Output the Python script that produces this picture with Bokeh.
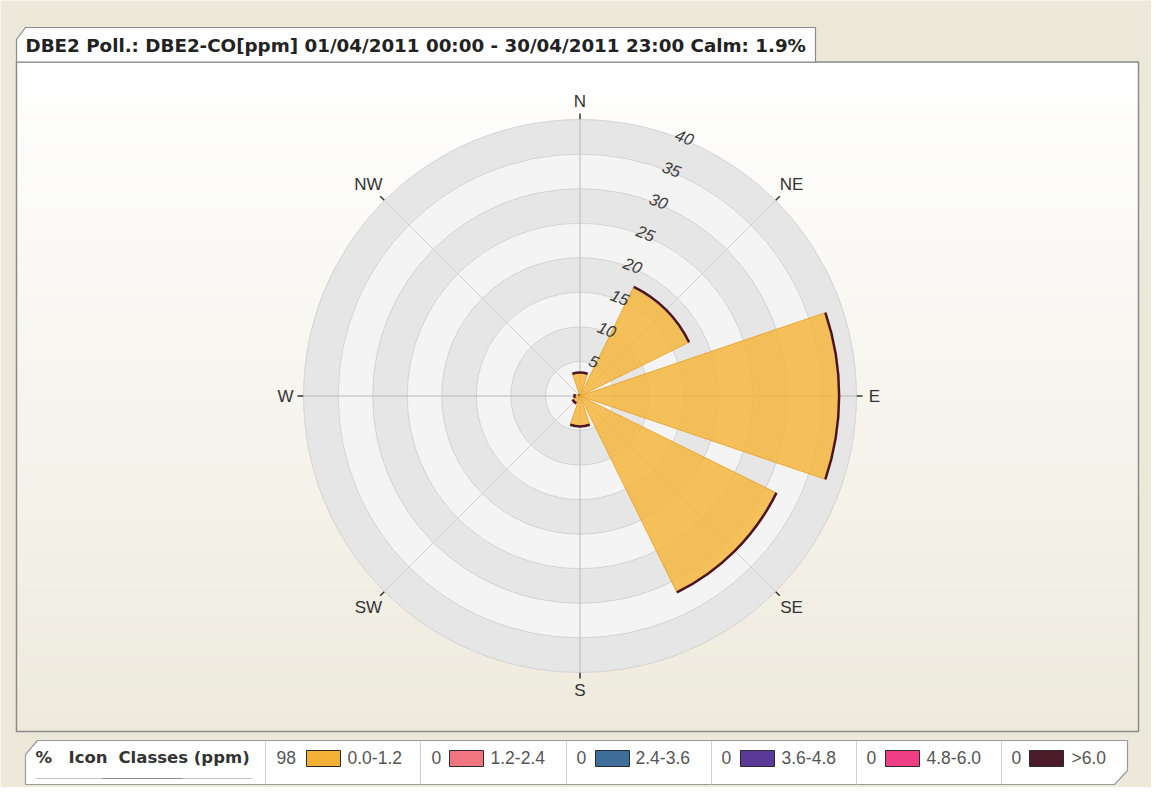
import math
from bokeh.plotting import figure
from bokeh.models import Range1d, ColumnDataSource
from bokeh.core.properties import value
from bokeh.embed import file_html
from bokeh.resources import INLINE

# ---------------- data ----------------
title_text = "DBE2 Poll.: DBE2-CO[ppm] 01/04/2011 00:00 - 30/04/2011 23:00 Calm: 1.9%"
directions = ["N", "NE", "E", "SE", "S", "SW", "W", "NW"]
direction_deg = [0, 45, 90, 135, 180, 225, 270, 315]
freq_pct = [3.4, 17.6, 37.5, 31.7, 4.4, 1.2, 0.8, 0.2]
ring_ticks = [5, 10, 15, 20, 25, 30, 35, 40]
class_labels = ["0.0-1.2", "1.2-2.4", "2.4-3.6", "3.6-4.8", "4.8-6.0", ">6.0"]
class_pct = ["98", "0", "0", "0", "0", "0"]
class_colors = ["#F3B235", "#F27480", "#3E6E99", "#5A3A98", "#EF3E84", "#4B1B29"]
legend_header = ["%", "Icon", "Classes (ppm)"]

# ---------------- geometry helpers ----------------
S = 6.91            # px per % unit
CX, CY = 587.5, 403.5
W, H = 1151, 787
BG = "#ECE8DA"
R_MAX = 40
SECTOR_W = 37.5


def X(px):
    return (px - CX) / S


def Y(py):
    return (CY - py) / S


def pol(r, compass_deg):
    a = math.radians(90 - compass_deg)
    return r * math.cos(a), r * math.sin(a)


p = figure(width=W, height=H,
           x_range=Range1d(X(8), X(8 + W)), y_range=Range1d(Y(8 + H), Y(8)),
           output_backend="svg", toolbar_location=None, min_border=0,
           outline_line_color=None, background_fill_color=BG,
           border_fill_color=BG, x_axis_type=None, y_axis_type=None)
p.grid.visible = False

# ---------------- panel with vertical gradient ----------------
top_c = (255, 255, 255)
bot_c = (238, 234, 221)
y_top, y_bot = 70, 739
n = 60
lefts, rights, tops, bots, cols = [], [], [], [], []
for i in range(n):
    a = y_top + (y_bot - y_top) * i / n
    b = y_top + (y_bot - y_top) * (i + 1) / n
    t = (i + 0.5) / n
    c = tuple(int(round(top_c[k] + (bot_c[k] - top_c[k]) * t)) for k in range(3))
    lefts.append(X(24)); rights.append(X(1146))
    tops.append(Y(a)); bots.append(Y(b + 0.6))
    cols.append("#%02x%02x%02x" % c)
p.quad(left=lefts, right=rights, top=tops, bottom=bots, fill_color=cols, line_color=None)
p.quad(left=[X(24)], right=[X(1146)], top=[Y(69.5)], bottom=[Y(739)],
       fill_color=None, line_color="#8A8A8A", line_width=1.5)

# title tab
tab_x = [X(v) for v in [24, 24, 33, 823, 823]]
tab_y = [Y(v) for v in [69.5, 47, 35, 35, 69.5]]
p.patch(tab_x, tab_y, fill_color="white", line_color="#8A8A8A", line_width=1.2)
p.text(x=[X(33)], y=[Y(52.5)], text=[title_text], text_font=value("DejaVu Sans"),
       text_font_style="bold", text_font_size=value("18.3px"), text_color="#222222",
       text_align="left", text_baseline="middle")

# ---------------- polar grid ----------------
ring_edges = [0] + ring_ticks
for i in range(len(ring_ticks) - 1, -1, -1):
    inner, outer = ring_edges[i], ring_edges[i + 1]
    col = "#E6E6E6" if i % 2 == 1 else "#F4F4F4"
    p.annulus(x=[0], y=[0], inner_radius=inner, outer_radius=outer,
              fill_color=col, line_color=None)
p.circle(x=[0] * len(ring_ticks), y=[0] * len(ring_ticks), radius=ring_ticks,
         fill_color=None, line_color="#D3D3D3", line_width=1)

# spokes
for d in direction_deg:
    x1, y1 = pol(R_MAX, d)
    col = "#B9B9B9" if d % 90 == 0 else "#D2D2D2"
    p.segment(x0=[0], y0=[0], x1=[x1], y1=[y1], line_color=col, line_width=1)

# ---------------- wedges ----------------
start = [math.radians(90 - d - SECTOR_W / 2) for d in direction_deg]
end = [math.radians(90 - d + SECTOR_W / 2) for d in direction_deg]
src = ColumnDataSource(dict(r=freq_pct, a0=start, a1=end))
p.wedge(x=0, y=0, radius="r", start_angle="a0", end_angle="a1", source=src,
        fill_color="#F5B63E", fill_alpha=0.85, line_color="#E9A83A", line_width=1)
p.arc(x=0, y=0, radius="r", start_angle="a0", end_angle="a1", source=src,
      line_color="#4A1525", line_width=2.5)

# ---------------- compass ticks & labels ----------------
tx0, ty0, tx1, ty1, lx, ly = [], [], [], [], [], []
for name, d in zip(directions, direction_deg):
    a, b = pol(R_MAX + 0.05, d)
    c, e = pol(R_MAX + 0.9, d)
    tx0.append(a); ty0.append(b); tx1.append(c); ty1.append(e)
    rr = 42.6 if d % 90 == 0 else 43.3
    u, v = pol(rr, d)
    lx.append(u); ly.append(v)
p.segment(x0=tx0, y0=ty0, x1=tx1, y1=ty1, line_color="#333333", line_width=1.5)
p.text(x=lx, y=ly, text=directions, text_font=value("Liberation Sans"),
       text_font_size=value("17px"), text_color="#333333",
       text_align="center", text_baseline="middle")

# ring value labels
rlx, rly = [], []
for v in ring_ticks:
    u, w = pol(v + 0.4, 22)
    rlx.append(u); rly.append(w)
p.text(x=rlx, y=rly, text=[str(v) for v in ring_ticks], text_font=value("Liberation Sans"),
       text_font_style="italic", text_font_size=value("16.5px"), text_color="#3C3C3C",
       angle=math.radians(-21), text_align="center", text_baseline="middle")

# ---------------- legend bar ----------------
lg_x = [X(v) for v in [33, 33, 45, 1135, 1135, 1122]]
lg_y = [Y(v) for v in [792, 762, 748, 748, 778, 792]]
p.patch(lg_x, lg_y, fill_color="white", line_color="#9A9A9A", line_width=1.2)

sep_x = [273, 428, 574, 719, 864, 1009]
p.segment(x0=[X(v) for v in sep_x], y0=[Y(749)] * 6, x1=[X(v) for v in sep_x],
          y1=[Y(792)] * 6, line_color="#CFCFCF", line_width=1)

p.segment(x0=[X(43)], y0=[Y(786)], x1=[X(260)], y1=[Y(786)], line_color="#C4C4C4", line_width=1)
p.segment(x0=[X(110)], y0=[Y(786)], x1=[X(190)], y1=[Y(786)], line_color="#8E8E8E", line_width=1)

p.text(x=[X(43), X(76), X(126)], y=[Y(765)] * 3, text=legend_header,
       text_font=value("DejaVu Sans"), text_font_style="bold",
       text_font_size=value("16.5px"), text_color="#333333",
       text_align="left", text_baseline="middle")

num_x = [284, 439, 584, 729, 874, 1019]
sw_l = [314, 457, 603, 748, 893, 1037]
lab_x = [355, 498, 643, 789, 934, 1079]
p.text(x=[X(v) for v in num_x], y=[Y(765)] * 6, text=class_pct,
       text_font=value("Liberation Sans"), text_font_size=value("17.5px"),
       text_color="#555555", text_align="left", text_baseline="middle")
p.quad(left=[X(v) for v in sw_l], right=[X(v + 34) for v in sw_l],
       top=[Y(758)] * 6, bottom=[Y(774)] * 6, fill_color=class_colors,
       line_color="#2A2A2A", line_width=1)
p.text(x=[X(v) for v in lab_x], y=[Y(765)] * 6, text=class_labels,
       text_font=value("Liberation Sans"), text_font_size=value("17.5px"),
       text_color="#555555", text_align="left", text_baseline="middle")

open("out.html", "w").write(file_html(p, INLINE))
